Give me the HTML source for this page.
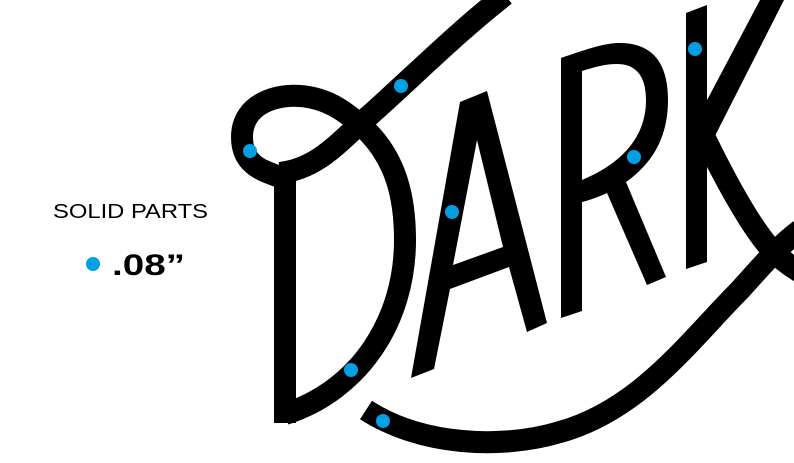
<!DOCTYPE html>
<html><head><meta charset="utf-8"><style>html,body{margin:0;padding:0;background:#fff;}svg{display:block}</style></head>
<body>
<svg width="794" height="463" viewBox="0 0 794 463" xmlns="http://www.w3.org/2000/svg">
<rect width="794" height="463" fill="#fff"/>
<text x="53" y="218" font-family="Liberation Sans, sans-serif" font-size="20.5" textLength="155" lengthAdjust="spacingAndGlyphs" fill="#000">SOLID PARTS</text>
<circle cx="93" cy="264" r="7" fill="#00a0e3"/>
<text x="112" y="275" font-family="Liberation Sans, sans-serif" font-weight="bold" font-size="30" textLength="73" lengthAdjust="spacingAndGlyphs" fill="#000">.08”</text>
<g fill="none" stroke="#000" stroke-width="22">
<line x1="285" y1="172" x2="285" y2="423"/>
<path d="M285,180 C275,172 242,172 242,137 C242,102 280,94 300,96 C330,98 350,115 368,132 C395,160 405,195 405,240 C405,320 360,390 285,414"/>
<path d="M280,173 C320,168 340,140 370,115 C420,70 460,30 505,-5"/>
<path d="M366,410 C420,445 500,450 560,432 C640,410 690,340 740,290 C765,262 780,245 800,230"/>
<path d="M700,128 C725,180 750,225 770,248 C780,258 788,265 800,272"/>
</g>
<path fill="#000" fill-rule="evenodd" d="M411,378 L460,102 L487,91 L547,323 L527,332 L509,267 L450,289 L434,369 Z M477,140 L503,247 L453,265 Z"/>
<path fill="#000" fill-rule="evenodd" d="M561,58 C590,48 605,43 620,43 C650,43 668,60 668,100 C668,140 650,165 626,182 L666,277 L647,285 L607,193 C598,197 590,200 582,202 L582,311 L561,318 Z M582,71 C595,67 605,64 617,64 C635,64 646,75 646,100 C646,130 630,160 582,180 Z"/>
<polygon fill="#000" points="686,13 707,5 707,262 686,269"/>
<polygon fill="#000" points="705,104 760,0 784,0 720,126 705,156"/>
<g fill="#00a0e3">
<circle cx="250" cy="151" r="7"/>
<circle cx="401" cy="86" r="7"/>
<circle cx="351" cy="370" r="7"/>
<circle cx="383" cy="421" r="7"/>
<circle cx="452" cy="212" r="7"/>
<circle cx="634" cy="157" r="7"/>
<circle cx="695" cy="49" r="7"/>
</g>
</svg>
</body></html>
